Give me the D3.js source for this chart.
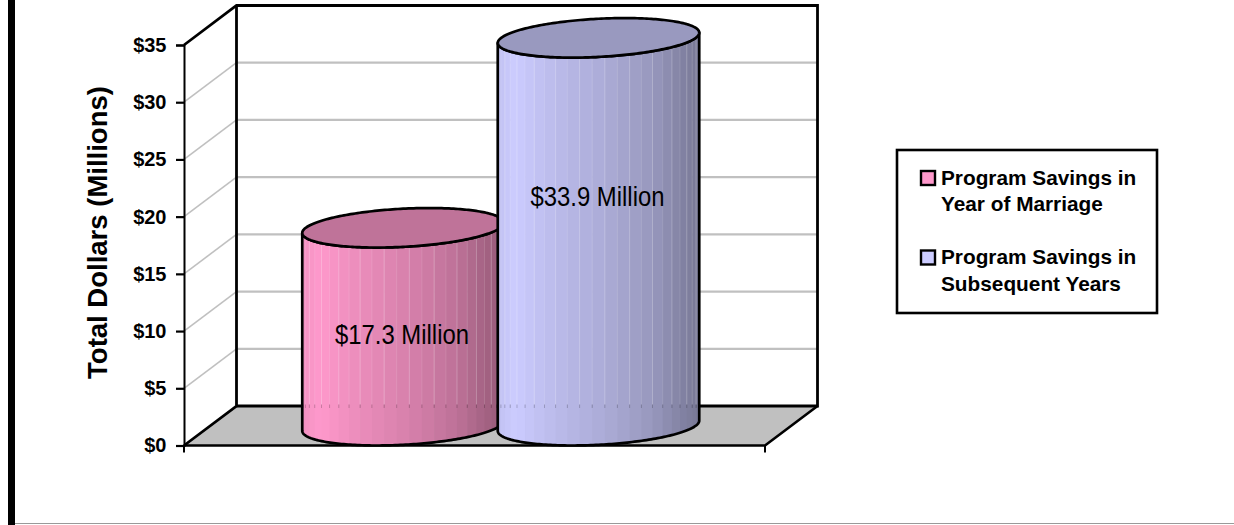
<!DOCTYPE html>
<html>
<head>
<meta charset="utf-8">
<style>
  html, body { margin: 0; padding: 0; background: #fff; }
  svg { display: block; }
  text { font-family: "Liberation Sans", Arial, sans-serif; fill: #000; }
</style>
<script src="https://cdn.jsdelivr.net/npm/d3@7"></script>
</head>
<body>
<svg id="chart" width="1234" height="525"></svg>
<script>
const seriesNames = ["Program Savings in Year of Marriage", "Program Savings in Subsequent Years"];
const legendLines = [["Program Savings in", "Year of Marriage"], ["Program Savings in", "Subsequent Years"]];
const seriesValues = [17.3, 33.9];
const valueLabels = ["$17.3 Million", "$33.9 Million"];
const seriesColors = ["#FF99CC", "#CCCCFF"];
const tickValues = [0, 5, 10, 15, 20, 25, 30, 35];
const axisTitle = "Total Dollars (Millions)";

const svg = d3.select("#chart");

// Oblique projection of the 3-D box: the back wall sits up and to the right of the front edge.
const depth = { x: 52.5, y: -39.5 };
const y = d3.scaleLinear().domain([0, 35]).range([445.5, 45]);
const x = d3.scaleBand().domain(seriesNames).range([184, 765]).paddingInner(0).paddingOuter(0.486);
const frontL = x.range()[0], frontR = x.range()[1];
const backL = frontL + depth.x, backR = frontR + depth.x;
const yBack = v => y(v) + depth.y;

// Outer frame of the slide
svg.append("rect").attr("x", 8).attr("y", 0).attr("width", 7).attr("height", 525).attr("fill", "#000");
svg.append("line").attr("x1", 15).attr("x2", 1234).attr("y1", 523.5).attr("y2", 523.5)
  .attr("stroke", "#999").attr("stroke-width", 1.2);

// Gridlines across the side wall and back wall
const grid = svg.append("g").attr("fill", "none").attr("stroke", "#C0C0C0");
tickValues.filter(v => v > 0 && v < 35).forEach(v => {
  grid.append("path").attr("stroke-width", 1.6)
    .attr("d", `M${frontL},${y(v)}L${backL},${yBack(v)}`);
  grid.append("path").attr("stroke-width", 2.2)
    .attr("d", `M${backL},${yBack(v)}H${backR}`);
});

// Floor
svg.append("path")
  .attr("d", `M${frontL},${y(0)}L${backL},${yBack(0)}H${backR}L${frontR},${y(0)}Z`)
  .attr("fill", "#C0C0C0");

// Box outline
const frame = svg.append("g").attr("fill", "none").attr("stroke", "#000");
frame.append("path").attr("stroke-width", 2.8)
  .attr("d", `M${frontL},${y(35)}L${backL},${yBack(35)}H${backR}V${yBack(0)}H${backL}`);
frame.append("path").attr("stroke-width", 2.8)
  .attr("d", `M${backL},${yBack(35)}V${yBack(0)}L${frontL},${y(0)}`);
frame.append("path").attr("stroke-width", 2.6)
  .attr("d", `M${frontL},${y(0)}H${frontR}L${backR},${yBack(0)}`);

// Value axis and its labels, sitting on the front-left edge
const axis = d3.axisLeft(y).tickValues(tickValues).tickSize(8).tickPadding(9.5).tickFormat(d => "$" + d);
const axisG = svg.append("g").attr("transform", `translate(${frontL},0)`).call(axis);
axisG.select(".domain").attr("stroke", "#000").attr("stroke-width", 2);
axisG.selectAll(".tick line").attr("stroke", "#000").attr("stroke-width", 2.2);
axisG.selectAll(".tick text").attr("font-family", "Liberation Sans").attr("font-size", 20).attr("font-weight", "bold");

// Category tick marks under the floor
[frontL, frontR].forEach(px => {
  svg.append("line").attr("x1", px).attr("x2", px).attr("y1", y(0)).attr("y2", y(0) + 7)
    .attr("stroke", "#000").attr("stroke-width", 2);
});

svg.append("text")
  .attr("transform", "translate(107,232.5) rotate(-90)")
  .attr("text-anchor", "middle")
  .attr("font-size", 27.5).attr("font-weight", "bold")
  .text(axisTitle);

// Cylinders: a sheared circle on the floor plane, extruded up to the value.
const radius = x.bandwidth() / 2 + 3;
const shearX = -depth.x / 2, halfDepth = -depth.y / 2;
const major = Math.sqrt(radius * radius - shearX * shearX);
const rim = (cx, cy, t) => [cx + major * Math.cos(t) + shearX * Math.sin(t), cy + halfDepth * Math.sin(t)];
const tRight = Math.atan2(shearX, major);
const line = d3.line();
const shade = d3.scaleLinear().domain([0, 35, 90, 120, 145, 180]).range([0.92, 1, 0.85, 0.75, 0.64, 0.56]);
const FACETS = 25;
const defs = svg.append("defs");

seriesNames.forEach((name, i) => {
  const cx = x(name) + x.bandwidth() / 2 + depth.x / 2;
  const base = y(0) + depth.y / 2;
  const top = y(seriesValues[i]) + depth.y / 2;
  const lowerFront = cy => d3.range(0, 121).map(k => rim(cx, cy, tRight + Math.PI * k / 120));
  const bodyD = line([...lowerFront(top), ...lowerFront(base).reverse()]) + "Z";
  const topD = line(d3.range(0, 241).map(k => rim(cx, top, 2 * Math.PI * k / 240))) + "Z";
  const color = d3.rgb(seriesColors[i]);
  const tint = f => d3.rgb(color.r * f, color.g * f, color.b * f);

  const clipId = "body-clip-" + i;
  defs.append("clipPath").attr("id", clipId).append("path").attr("d", bodyD);
  const g = svg.append("g");
  const strips = g.append("g").attr("clip-path", `url(#${clipId})`);

  // Vertical facets spaced evenly by angle around the cylinder
  d3.range(FACETS).forEach(j => {
    const a0 = Math.PI * j / FACETS, a1 = Math.PI * (j + 1) / FACETS;
    const px0 = cx - radius * Math.cos(a0), px1 = cx - radius * Math.cos(a1);
    const mid = (j + 0.5) * 180 / FACETS;
    strips.append("rect")
      .attr("x", px0).attr("y", top - 30).attr("width", px1 - px0 + 0.6).attr("height", base - top + 60)
      .attr("fill", tint(shade(mid)));
    if (j > 0) {
      strips.append("line").attr("x1", px0).attr("x2", px0)
        .attr("y1", top - 30).attr("y2", yBack(0) - 1.5)
        .attr("stroke", "#fff").attr("stroke-opacity", j % 2 ? 0.24 : 0.12);
      strips.append("line").attr("x1", px0).attr("x2", px0)
        .attr("y1", yBack(0) - 1.5).attr("y2", yBack(0) + 2)
        .attr("stroke", "#000").attr("stroke-opacity", 0.2);
    }
  });

  g.append("path").attr("d", bodyD).attr("fill", "none")
    .attr("stroke", "#000").attr("stroke-width", 2.7).attr("stroke-linejoin", "round");
  g.append("path").attr("d", topD).attr("fill", tint(0.75))
    .attr("stroke", "#000").attr("stroke-width", 2.7);

  svg.append("text")
    .attr("x", cx - 1).attr("y", (top + base) / 2 + (i === 0 ? 17 : -26))
    .attr("text-anchor", "middle").attr("font-size", 28)
    .attr("textLength", 134).attr("lengthAdjust", "spacingAndGlyphs")
    .text(valueLabels[i]);
});

// Legend
const legend = svg.append("g").attr("transform", "translate(897,150)");
legend.append("rect").attr("width", 260).attr("height", 163)
  .attr("fill", "#fff").attr("stroke", "#000").attr("stroke-width", 2.6);
const rowTop = [21, 100.5];
seriesNames.forEach((name, i) => {
  legend.append("rect").attr("x", 24).attr("y", rowTop[i]).attr("width", 14).attr("height", 14)
    .attr("fill", seriesColors[i]).attr("stroke", "#000").attr("stroke-width", 2.4);
  legendLines[i].forEach((txt, k) => {
    legend.append("text")
      .attr("x", 44).attr("y", rowTop[i] + 13.5 + k * 26.5)
      .attr("font-size", 20.8).attr("font-weight", "bold")
      .text(txt);
  });
});
</script>
</body>
</html>
